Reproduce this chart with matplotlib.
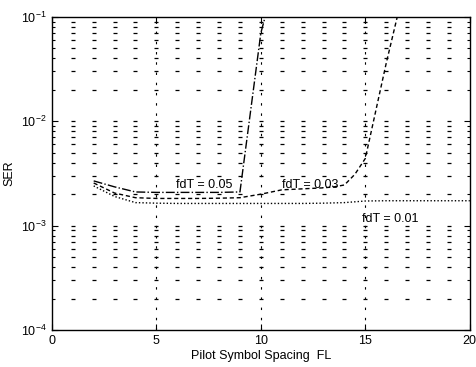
import numpy as np
import matplotlib
matplotlib.use("Agg")
import matplotlib.pyplot as plt

plt.rcParams['font.family'] = ['Liberation Sans', 'DejaVu Sans']

# SER vs pilot symbol spacing, one curve per normalised Doppler fdT
fl_05 = [2, 3, 4, 5, 6, 7, 8, 9, 10, 11]
ser_05 = [2.68e-3, 2.35e-3, 2.10e-3, 2.08e-3, 2.08e-3, 2.08e-3, 2.08e-3, 2.10e-3, 7.0e-2, 4.0e-1]

fl_03 = [2, 3, 4, 5, 6, 7, 8, 9, 10, 11, 12, 13, 13.5, 14, 14.5, 15, 16, 17]
ser_03 = [2.56e-3, 2.05e-3, 1.85e-3, 1.82e-3, 1.82e-3, 1.82e-3, 1.83e-3, 1.85e-3,
          2.0e-3, 2.2e-3, 2.25e-3, 2.3e-3, 2.35e-3, 2.45e-3, 3.1e-3, 4.4e-3, 3.6e-2, 2.5e-1]

fl_01 = [2, 3, 4, 5, 6, 7, 8, 9, 10, 11, 12, 13, 14, 15, 16, 17, 18, 19, 20]
ser_01 = [2.40e-3, 1.90e-3, 1.66e-3, 1.64e-3, 1.63e-3, 1.63e-3, 1.63e-3, 1.63e-3, 1.63e-3,
          1.63e-3, 1.63e-3, 1.64e-3, 1.66e-3, 1.72e-3, 1.73e-3, 1.73e-3, 1.73e-3, 1.73e-3, 1.73e-3]

labels = ['fdT = 0.05', 'fdT = 0.03', 'fdT = 0.01']
label_x = [7.3, 12.35, 16.2]
label_y = [2.45e-3, 2.45e-3, 1.16e-3]

fig = plt.figure(figsize=(4.76, 3.67), dpi=100)
ax = fig.add_axes([0.109, 0.101, 0.878, 0.853])

ax.set_xscale('linear')
ax.set_yscale('log')
ax.set_xlim(0, 20)
ax.set_ylim(1e-4, 1e-1)

# grid: short dashes at integer FL on every log tick row, dashed verticals
rows = [m * 10.0 ** e for e in (-4, -3, -2) for m in range(1, 10)][1:]
cols = np.arange(1, 20)
for r in rows:
    ax.plot(cols, [r] * len(cols), ls='none', marker='_', ms=3.2, mew=0.9, color='k')
for v in (5, 10, 15):
    ax.axvline(v, color='k', lw=0.8, ls=(0, (2.2, 7)))

ax.plot(fl_05, ser_05, color='k', lw=1.0, ls='-.')
ax.plot(fl_03, ser_03, color='k', lw=1.0, ls=(0, (3, 2)))
ax.plot(fl_01, ser_01, color='k', lw=1.0, ls=(0, (1, 1.5)))

for t, x, y in zip(labels, label_x, label_y):
    ax.text(x, y, t, fontsize=9, ha='center', va='center')

ax.set_xticks([0, 5, 10, 15, 20])
ax.set_xticklabels(['0', '5', '10', '15', '20'])
ax.tick_params(axis='both', which='both', direction='in', top=True, right=True,
               labelsize=9, width=0.8)
ax.tick_params(axis='both', which='major', length=4, pad=4)
ax.tick_params(axis='y', which='minor', length=2.5)
for s in ax.spines.values():
    s.set_linewidth(1.0)

ax.set_xlabel('Pilot Symbol Spacing  FL', fontsize=9, labelpad=2)
ax.set_ylabel('SER', fontsize=9, labelpad=4)

fig.savefig('out.png', dpi=100)
